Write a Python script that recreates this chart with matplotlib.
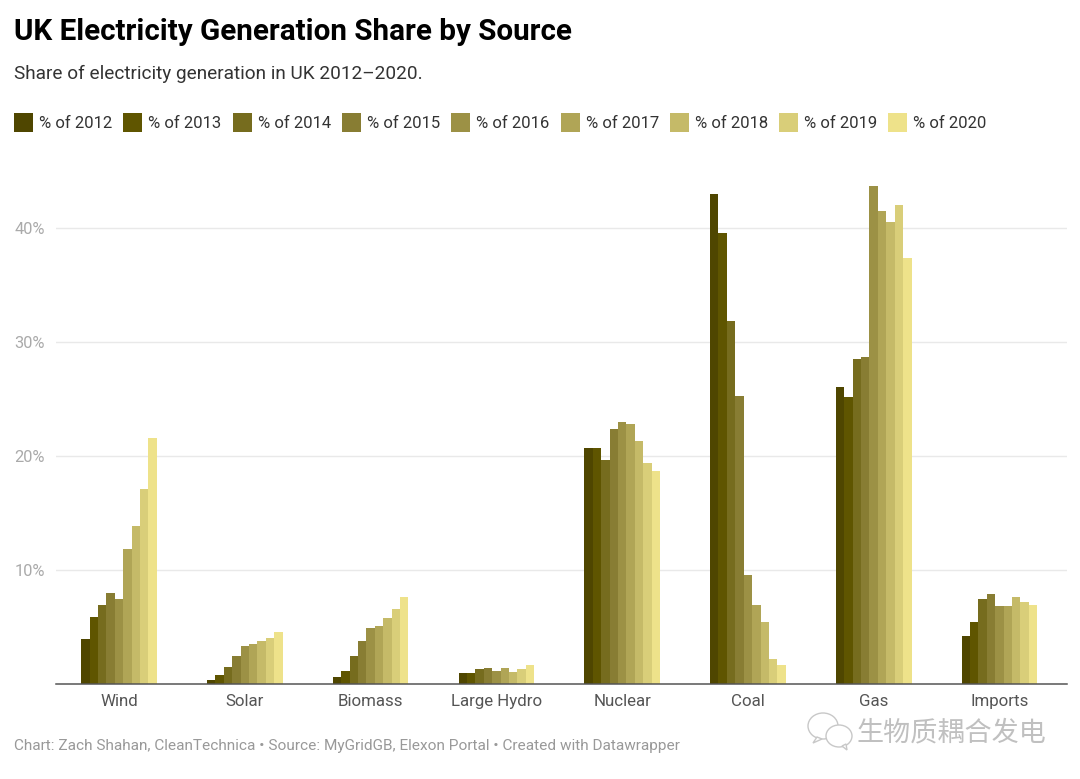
import numpy as np
import matplotlib.pyplot as plt
from matplotlib.patches import Rectangle, Ellipse, Polygon

plt.rcParams['font.family'] = ['Roboto', 'Noto Sans CJK SC', 'DejaVu Sans']

# Datos
fuentes = ['Wind', 'Solar', 'Biomass', 'Large Hydro', 'Nuclear', 'Coal', 'Gas', 'Imports']
anios = ['2012', '2013', '2014', '2015', '2016', '2017', '2018', '2019', '2020']
wind = [3.95, 5.85, 6.95, 8.0, 7.5, 11.85, 13.9, 17.1, 21.6]
solar = [0.35, 0.8, 1.5, 2.5, 3.3, 3.55, 3.8, 4.05, 4.55]
biomass = [0.65, 1.15, 2.5, 3.8, 4.9, 5.05, 5.8, 6.55, 7.65]
hydro = [0.95, 0.95, 1.3, 1.4, 1.15, 1.4, 1.05, 1.3, 1.65]
nuclear = [20.7, 20.7, 19.65, 22.4, 23.0, 22.85, 21.3, 19.4, 18.7]
coal = [43.0, 39.6, 31.8, 25.3, 9.55, 6.95, 5.45, 2.15, 1.65]
gas = [26.05, 25.2, 28.55, 28.65, 43.7, 41.5, 40.55, 42.0, 37.4]
imports = [4.25, 5.45, 7.5, 7.9, 6.8, 6.8, 7.65, 7.15, 6.95]
valores = np.array([wind, solar, biomass, hydro, nuclear, coal, gas, imports])

colores = ['#4f4600', '#5f5500', '#766c1e', '#887d33', '#9c9145',
           '#b0a556', '#c5ba68', '#d9ce79', '#eee28a']

W, H = 1080, 779
fig = plt.figure(figsize=(W / 100, H / 100), dpi=100, facecolor='white')


def fx(x):
    return x / W


def fy(y):
    return 1 - y / H


# Ejes en pixeles de la imagen
ax = fig.add_axes([fx(56), fy(684), fx(1067 - 56), (684 - 160) / H])
ancho = 8.4 / 125.7
x = np.arange(len(fuentes))
for i, anio in enumerate(anios):
    ax.bar(x + (i - 4) * ancho, valores[:, i], width=ancho, color=colores[i],
           linewidth=0, zorder=3)

ax.set_xlim(-63 / 125.7, 7 + 67.5 / 125.7)
ax.set_ylim(0, 524 / 11.4)
ax.set_xticks(x)
ax.set_xticklabels(fuentes, fontsize=12.2, color='#555555')
ax.set_yticks([10, 20, 30, 40])
ax.set_yticklabels(['10%', '20%', '30%', '40%'], fontsize=11.8, color='#aaaaaa')
ax.tick_params(axis='both', length=0)
ax.tick_params(axis='x', pad=7)
ax.tick_params(axis='y', pad=8)
ax.grid(axis='y', color='#e9e9e9', linewidth=1, zorder=0)
ax.set_axisbelow(True)
for lado in ['top', 'left', 'right']:
    ax.spines[lado].set_visible(False)
ax.spines['bottom'].set_color('#555555')
ax.spines['bottom'].set_linewidth(1.1)
ax.spines['bottom'].set_zorder(5)

# Titulos
fig.text(fx(14), fy(32), 'UK Electricity Generation Share by Source', fontsize=21.3,
         fontweight='bold', color='#000000', va='center')
fig.text(fx(14), fy(74), 'Share of electricity generation in UK 2012–2020.', fontsize=13.65,
         color='#333333', va='center')

# Leyenda
for i, anio in enumerate(anios):
    x0 = 12 + i * 109.3 + 2
    fig.add_artist(Rectangle((fx(x0), fy(132)), 19 / W, 19 / H, transform=fig.transFigure,
                             facecolor=colores[i], edgecolor='none'))
    fig.text(fx(x0 + 25), fy(123.5), '% of ' + anio, fontsize=12, color='#333333', va='center')

# Pie
fig.text(fx(14), fy(746),
         'Chart: Zach Shahan, CleanTechnica • Source: MyGridGB, Elexon Portal • Created with Datawrapper',
         fontsize=11.05, color='#999999', va='center')

# Marca de agua
gris = '#c8c8c8'
for cx, cy, ew, eh in [(823, 726, 30, 26), (839, 736, 26, 22)]:
    fig.add_artist(Ellipse((fx(cx), fy(cy)), ew / W, eh / H, transform=fig.transFigure,
                           facecolor='white', edgecolor=gris, linewidth=1))
fig.add_artist(Polygon([(fx(817), fy(737)), (fx(813), fy(743)), (fx(822), fy(739))],
                       transform=fig.transFigure, facecolor='white', edgecolor=gris, linewidth=1))
fig.add_artist(Polygon([(fx(842), fy(746)), (fx(847), fy(750)), (fx(846), fy(744))],
                       transform=fig.transFigure, facecolor='white', edgecolor=gris, linewidth=1))
fig.text(fx(857), fy(733), '生物质耦合发电', fontsize=19.5, color='#c0c0c0', va='center',
         fontweight='light')

fig.savefig('out.png', dpi=100)
